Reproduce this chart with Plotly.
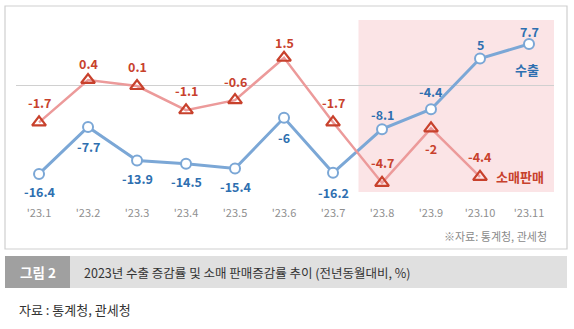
import plotly.graph_objects as go

months = ["'23.1", "'23.2", "'23.3", "'23.4", "'23.5", "'23.6", "'23.7", "'23.8", "'23.9", "'23.10", "'23.11"]
export_vals = [-16.4, -7.7, -13.9, -14.5, -15.4, -6, -16.2, -8.1, -4.4, 5, 7.7]
retail_vals = [-1.7, 0.4, 0.1, -1.1, -0.6, 1.5, -1.7, -4.7, -2, -4.4]

FONT = "Noto Sans CJK KR"
BLUE_LINE = "#7ba7d6"
BLUE_TXT = "#2e6fb0"
RED_LINE = "#ec9a9a"
RED_TXT = "#c8412c"

# plot area in pixels
L, R, T, B = 16, 554, 20, 192
def px(xp): return (xp - L) / (R - L)
def py(yp): return (B - yp) / (B - T)

xs = list(range(len(months)))
fig = go.Figure()

shapes = []
# shaded region
shapes.append(dict(type="rect", xref="x", yref="paper", x0=6.52, x1=10.52, y0=0, y1=1,
                   fillcolor="#fbe4e6", line=dict(width=0), layer="below"))
# zero line
shapes.append(dict(type="line", xref="paper", yref="y", x0=0, x1=1, y0=0, y1=0,
                   line=dict(color="#d0d0d0", width=1), layer="below"))
# outer box
shapes.append(dict(type="rect", xref="paper", yref="paper", x0=px(5), x1=px(567), y0=py(249), y1=py(6),
                   line=dict(color="#cfcfcf", width=1.2), fillcolor="rgba(0,0,0,0)", layer="below"))
# caption bar
shapes.append(dict(type="rect", xref="paper", yref="paper", x0=px(5), x1=px(567), y0=py(288), y1=py(256),
                   line=dict(width=0), fillcolor="#e0e0e0", layer="above"))
shapes.append(dict(type="rect", xref="paper", yref="paper", x0=px(5), x1=px(70), y0=py(288), y1=py(256),
                   line=dict(width=0), fillcolor="#a0a0a0", layer="above"))

fig.add_trace(go.Scatter(x=xs[:len(retail_vals)], y=retail_vals, yaxis="y2", mode="lines+markers",
                         line=dict(color=RED_LINE, width=2.5),
                         marker=dict(symbol="triangle-up-open", size=12, color=RED_TXT,
                                     line=dict(width=2.2, color=RED_TXT)),
                         hoverinfo="skip", showlegend=False))
fig.add_trace(go.Scatter(x=xs, y=export_vals, mode="lines+markers",
                         line=dict(color=BLUE_LINE, width=3),
                         marker=dict(symbol="circle", size=10, color="white",
                                     line=dict(width=2, color=BLUE_LINE)),
                         hoverinfo="skip", showlegend=False))

ann = []
exp_shift = [-18, -20, -18, -18, -18, -20, -20, 15, 18, 14, 12]
for i, v in enumerate(export_vals):
    ann.append(dict(x=xs[i], y=v, xref="x", yref="y", text=f"<b>{v:g}</b>", showarrow=False,
                    xanchor="center", yshift=exp_shift[i], font=dict(family=FONT, size=12.5, color=BLUE_TXT)))
ret_shift = [20, 16, 20, 20, 19, 15, 20, 20, -20, 20]
for i, v in enumerate(retail_vals):
    ann.append(dict(x=xs[i], y=v, xref="x", yref="y2", text=f"<b>{v:g}</b>", showarrow=False,
                    xanchor="center", yshift=ret_shift[i], font=dict(family=FONT, size=12.5, color=RED_TXT)))

ann.append(dict(x=xs[-1], y=export_vals[-1], xref="x", yref="y", text="<b>수출</b>", showarrow=False,
                xanchor="center", yshift=-26, xshift=-2, font=dict(family=FONT, size=13, color=BLUE_TXT)))
ann.append(dict(x=xs[len(retail_vals) - 1], y=retail_vals[-1], xref="x", yref="y2", text="<b>소매판매</b>",
                showarrow=False, xanchor="left", xshift=14, font=dict(family=FONT, size=13, color=RED_TXT)))

# source in chart box
ann.append(dict(x=px(549), y=py(236), xref="paper", yref="paper", xanchor="right", yanchor="middle",
                text="※자료: 통계청, 관세청", showarrow=False, font=dict(family=FONT, size=11, color="#8a8a8a")))
# caption texts
ann.append(dict(x=px(37.5), y=py(272), xref="paper", yref="paper", xanchor="center", yanchor="middle",
                text="<b>그림 2</b>", showarrow=False, font=dict(family=FONT, size=13.5, color="white")))
ann.append(dict(x=px(82), y=py(272), xref="paper", yref="paper", xanchor="left", yanchor="middle",
                text="2023년 수출 증감률 및 소매 판매증감률 추이 (전년동월대비, %)",
                showarrow=False, font=dict(family=FONT, size=12.5, color="#333333")))
ann.append(dict(x=px(17), y=py(309), xref="paper", yref="paper", xanchor="left", yanchor="middle",
                text="자료 : 통계청, 관세청", showarrow=False, font=dict(family=FONT, size=13, color="#333333")))

fig.update_layout(
    width=574, height=329,
    margin=dict(l=L, r=574 - R, t=T, b=329 - B),
    paper_bgcolor="white", plot_bgcolor="rgba(0,0,0,0)",
    xaxis=dict(range=[-0.47, 10.51], tickmode="array", tickvals=xs, ticktext=months,
               showgrid=False, zeroline=False, showline=False, ticks="",
               tickfont=dict(family=FONT, size=11, color="#8f8f8f"), ticklabelstandoff=13),
    yaxis=dict(range=[-19.76, 12.15], visible=False, showgrid=False, zeroline=False),
    yaxis2=dict(range=[-5.15, 3.37], overlaying="y", side="right", visible=False,
                showgrid=False, zeroline=False),
    shapes=shapes,
    annotations=ann,
)

fig.write_html("out.html")
